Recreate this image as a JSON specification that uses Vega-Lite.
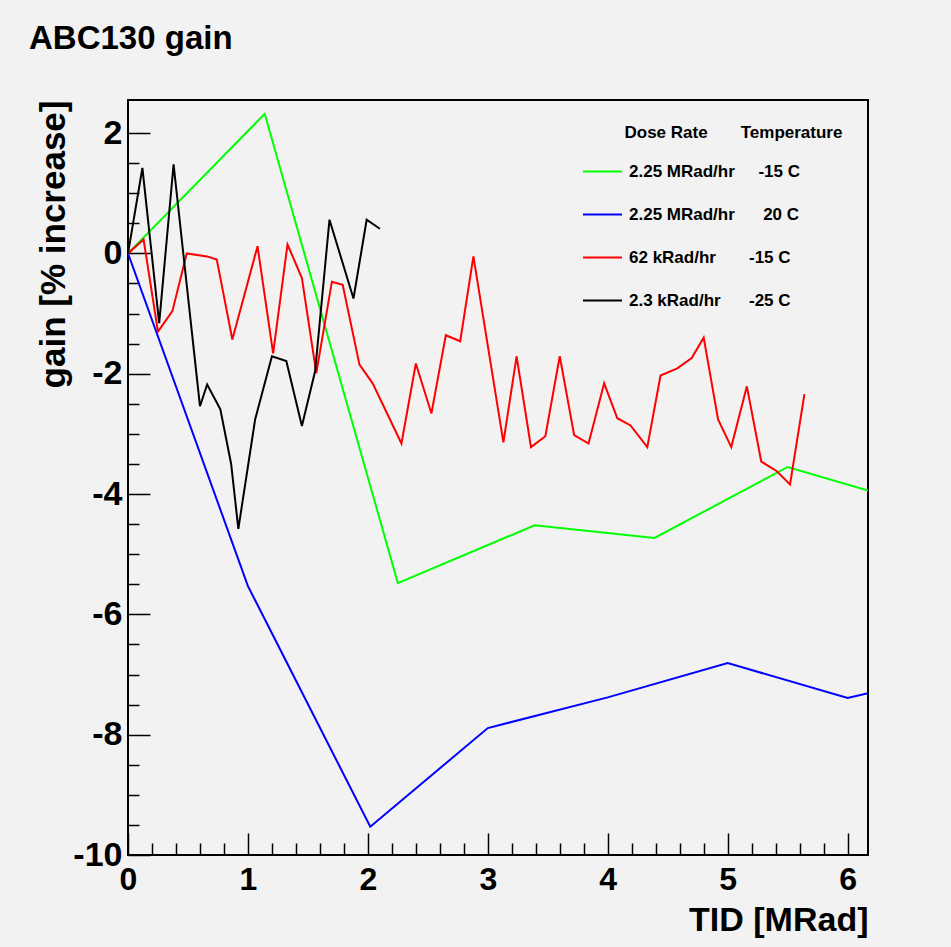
{
  "$schema": "https://vega.github.io/schema/vega-lite/v6.json",
  "autosize": {"type": "none"},
  "padding": {"left": 128, "top": 100, "right": 83, "bottom": 92},
  "width": 740,
  "height": 755,
  "background": "#f2f2f2",
  "title": {
    "text": "ABC130 gain",
    "anchor": "start",
    "frame": "group",
    "font": "Liberation Sans",
    "fontSize": 33,
    "fontWeight": "bold",
    "color": "black",
    "baseline": "alphabetic",
    "offset": 18,
    "dx": -99
  },
  "config": {
    "view": {"stroke": "black", "strokeWidth": 2, "fill": "#f2f2f2"},
    "axis": {"grid": false, "domain": false}
  },
  "data": {
    "values": [
      {"series": "2.25 MRad/hr, -15 C", "tid": 0, "gain": 0},
      {"series": "2.25 MRad/hr, -15 C", "tid": 1.14, "gain": 2.32},
      {"series": "2.25 MRad/hr, -15 C", "tid": 2.25, "gain": -5.48},
      {"series": "2.25 MRad/hr, -15 C", "tid": 3.39, "gain": -4.52},
      {"series": "2.25 MRad/hr, -15 C", "tid": 4.39, "gain": -4.73},
      {"series": "2.25 MRad/hr, -15 C", "tid": 5.5, "gain": -3.55},
      {"series": "2.25 MRad/hr, -15 C", "tid": 6.17, "gain": -3.94},

      {"series": "2.25 MRad/hr, 20 C", "tid": 0, "gain": 0},
      {"series": "2.25 MRad/hr, 20 C", "tid": 1.0, "gain": -5.53},
      {"series": "2.25 MRad/hr, 20 C", "tid": 2.02, "gain": -9.53},
      {"series": "2.25 MRad/hr, 20 C", "tid": 3.0, "gain": -7.89},
      {"series": "2.25 MRad/hr, 20 C", "tid": 4.0, "gain": -7.38},
      {"series": "2.25 MRad/hr, 20 C", "tid": 5.0, "gain": -6.81},
      {"series": "2.25 MRad/hr, 20 C", "tid": 6.0, "gain": -7.39},
      {"series": "2.25 MRad/hr, 20 C", "tid": 6.17, "gain": -7.31},

      {"series": "62 kRad/hr, -15 C", "tid": 0, "gain": 0},
      {"series": "62 kRad/hr, -15 C", "tid": 0.13, "gain": 0.23},
      {"series": "62 kRad/hr, -15 C", "tid": 0.25, "gain": -1.3},
      {"series": "62 kRad/hr, -15 C", "tid": 0.37, "gain": -0.96},
      {"series": "62 kRad/hr, -15 C", "tid": 0.49, "gain": 0.0},
      {"series": "62 kRad/hr, -15 C", "tid": 0.66, "gain": -0.05},
      {"series": "62 kRad/hr, -15 C", "tid": 0.74, "gain": -0.1},
      {"series": "62 kRad/hr, -15 C", "tid": 0.87, "gain": -1.43},
      {"series": "62 kRad/hr, -15 C", "tid": 1.08, "gain": 0.12},
      {"series": "62 kRad/hr, -15 C", "tid": 1.21, "gain": -1.66},
      {"series": "62 kRad/hr, -15 C", "tid": 1.33, "gain": 0.15},
      {"series": "62 kRad/hr, -15 C", "tid": 1.45, "gain": -0.41},
      {"series": "62 kRad/hr, -15 C", "tid": 1.57, "gain": -1.99},
      {"series": "62 kRad/hr, -15 C", "tid": 1.7, "gain": -0.47},
      {"series": "62 kRad/hr, -15 C", "tid": 1.79, "gain": -0.52},
      {"series": "62 kRad/hr, -15 C", "tid": 1.93, "gain": -1.85},
      {"series": "62 kRad/hr, -15 C", "tid": 2.04, "gain": -2.16},
      {"series": "62 kRad/hr, -15 C", "tid": 2.28, "gain": -3.16},
      {"series": "62 kRad/hr, -15 C", "tid": 2.4, "gain": -1.83},
      {"series": "62 kRad/hr, -15 C", "tid": 2.53, "gain": -2.66},
      {"series": "62 kRad/hr, -15 C", "tid": 2.65, "gain": -1.36},
      {"series": "62 kRad/hr, -15 C", "tid": 2.77, "gain": -1.46},
      {"series": "62 kRad/hr, -15 C", "tid": 2.88, "gain": -0.05},
      {"series": "62 kRad/hr, -15 C", "tid": 3.13, "gain": -3.14},
      {"series": "62 kRad/hr, -15 C", "tid": 3.24, "gain": -1.71},
      {"series": "62 kRad/hr, -15 C", "tid": 3.36, "gain": -3.22},
      {"series": "62 kRad/hr, -15 C", "tid": 3.48, "gain": -3.04},
      {"series": "62 kRad/hr, -15 C", "tid": 3.6, "gain": -1.71},
      {"series": "62 kRad/hr, -15 C", "tid": 3.72, "gain": -3.02},
      {"series": "62 kRad/hr, -15 C", "tid": 3.84, "gain": -3.16},
      {"series": "62 kRad/hr, -15 C", "tid": 3.97, "gain": -2.16},
      {"series": "62 kRad/hr, -15 C", "tid": 4.08, "gain": -2.74},
      {"series": "62 kRad/hr, -15 C", "tid": 4.19, "gain": -2.86},
      {"series": "62 kRad/hr, -15 C", "tid": 4.33, "gain": -3.22},
      {"series": "62 kRad/hr, -15 C", "tid": 4.44, "gain": -2.03},
      {"series": "62 kRad/hr, -15 C", "tid": 4.58, "gain": -1.91},
      {"series": "62 kRad/hr, -15 C", "tid": 4.7, "gain": -1.74},
      {"series": "62 kRad/hr, -15 C", "tid": 4.8, "gain": -1.4},
      {"series": "62 kRad/hr, -15 C", "tid": 4.92, "gain": -2.76},
      {"series": "62 kRad/hr, -15 C", "tid": 5.03, "gain": -3.22},
      {"series": "62 kRad/hr, -15 C", "tid": 5.16, "gain": -2.21},
      {"series": "62 kRad/hr, -15 C", "tid": 5.28, "gain": -3.46},
      {"series": "62 kRad/hr, -15 C", "tid": 5.41, "gain": -3.62},
      {"series": "62 kRad/hr, -15 C", "tid": 5.52, "gain": -3.84},
      {"series": "62 kRad/hr, -15 C", "tid": 5.64, "gain": -2.34},

      {"series": "2.3 kRad/hr, -25 C", "tid": 0, "gain": 0},
      {"series": "2.3 kRad/hr, -25 C", "tid": 0.12, "gain": 1.42},
      {"series": "2.3 kRad/hr, -25 C", "tid": 0.26, "gain": -1.16},
      {"series": "2.3 kRad/hr, -25 C", "tid": 0.38, "gain": 1.48},
      {"series": "2.3 kRad/hr, -25 C", "tid": 0.6, "gain": -2.54},
      {"series": "2.3 kRad/hr, -25 C", "tid": 0.66, "gain": -2.18},
      {"series": "2.3 kRad/hr, -25 C", "tid": 0.77, "gain": -2.59},
      {"series": "2.3 kRad/hr, -25 C", "tid": 0.86, "gain": -3.5},
      {"series": "2.3 kRad/hr, -25 C", "tid": 0.92, "gain": -4.58},
      {"series": "2.3 kRad/hr, -25 C", "tid": 1.06, "gain": -2.76},
      {"series": "2.3 kRad/hr, -25 C", "tid": 1.2, "gain": -1.71},
      {"series": "2.3 kRad/hr, -25 C", "tid": 1.32, "gain": -1.79},
      {"series": "2.3 kRad/hr, -25 C", "tid": 1.45, "gain": -2.87},
      {"series": "2.3 kRad/hr, -25 C", "tid": 1.56, "gain": -1.96},
      {"series": "2.3 kRad/hr, -25 C", "tid": 1.68, "gain": 0.56},
      {"series": "2.3 kRad/hr, -25 C", "tid": 1.88, "gain": -0.75},
      {"series": "2.3 kRad/hr, -25 C", "tid": 1.99, "gain": 0.56},
      {"series": "2.3 kRad/hr, -25 C", "tid": 2.1, "gain": 0.41}
    ]
  },
  "mark": {"type": "line", "strokeWidth": 2, "clip": true},
  "encoding": {
    "x": {
      "field": "tid",
      "type": "quantitative",
      "scale": {"domain": [0, 6.17], "nice": false, "zero": false},
      "axis": {
        "title": "TID [MRad]",
        "titleAnchor": "end",
        "titleFont": "Liberation Sans",
        "titleFontSize": 34,
        "titleFontWeight": "bold",
        "titleColor": "black",
        "titlePadding": -2,
        "values": [0, 0.2, 0.4, 0.6, 0.8, 1, 1.2, 1.4, 1.6, 1.8, 2, 2.2, 2.4, 2.6, 2.8, 3, 3.2, 3.4, 3.6, 3.8, 4, 4.2, 4.4, 4.6, 4.8, 5, 5.2, 5.4, 5.6, 5.8, 6],
        "tickSize": {"condition": {"test": "datum.value % 1 === 0", "value": -22}, "value": -12},
        "tickColor": "black",
        "tickWidth": 1.5,
        "labelExpr": "datum.value % 1 === 0 ? '' + datum.value : ''",
        "labelFont": "Liberation Sans",
        "labelFontSize": 32,
        "labelFontWeight": "bold",
        "labelColor": "black",
        "labelPadding": 31,
        "labelFlush": false,
        "labelOverlap": false
      }
    },
    "y": {
      "field": "gain",
      "type": "quantitative",
      "scale": {"domain": [-10, 2.55], "nice": false, "zero": false},
      "axis": {
        "title": "gain [% increase]",
        "titleAnchor": "end",
        "titleFont": "Liberation Sans",
        "titleFontSize": 35,
        "titleFontWeight": "bold",
        "titleColor": "black",
        "titlePadding": 1,
        "values": [-10, -9.5, -9, -8.5, -8, -7.5, -7, -6.5, -6, -5.5, -5, -4.5, -4, -3.5, -3, -2.5, -2, -1.5, -1, -0.5, 0, 0.5, 1, 1.5, 2],
        "tickSize": {"condition": {"test": "datum.value % 2 === 0", "value": -22}, "value": -11},
        "tickColor": "black",
        "tickWidth": 1.5,
        "labelExpr": "datum.value % 2 === 0 ? '' + datum.value : ''",
        "labelFont": "Liberation Sans",
        "labelFontSize": 34,
        "labelFontWeight": "bold",
        "labelColor": "black",
        "labelPadding": 28,
        "labelFlush": false,
        "labelOverlap": false
      }
    },
    "color": {
      "field": "series",
      "type": "nominal",
      "scale": {
        "domain": ["2.25 MRad/hr, -15 C", "2.25 MRad/hr, 20 C", "62 kRad/hr, -15 C", "2.3 kRad/hr, -25 C"],
        "range": ["#00ff00", "#0000ff", "#ff0000", "#000000"]
      },
      "legend": {
        "title": "\u200b\u00a0\u00a0\u00a0\u00a0\u00a0\u00a0\u00a0\u00a0\u00a0Dose Rate\u00a0\u00a0\u00a0\u00a0\u00a0\u00a0\u00a0Temperature",
        "orient": "top-right",
        "offset": 25,
        "padding": 0,
        "titleFont": "Liberation Sans",
        "titleFontSize": 17,
        "titleFontWeight": "bold",
        "titleColor": "black",
        "titlePadding": 9,
        "titleLimit": 500,
        "labelFont": "Liberation Sans",
        "labelFontSize": 17,
        "labelFontWeight": "bold",
        "labelColor": "black",
        "labelOffset": 6,
        "labelLimit": 400,
        "symbolType": "stroke",
        "symbolSize": 1521,
        "symbolStrokeWidth": 2,
        "rowPadding": 14,
        "labelExpr": "datum.label == '2.25 MRad/hr, -15 C' ? '2.25 MRad/hr\u00a0\u00a0\u00a0\u00a0\u00a0-15 C' : datum.label == '2.25 MRad/hr, 20 C' ? '2.25 MRad/hr\u00a0\u00a0\u00a0\u00a0\u00a0\u00a020 C' : datum.label == '62 kRad/hr, -15 C' ? '62 kRad/hr\u00a0\u00a0\u00a0\u00a0\u00a0\u00a0\u00a0-15 C' : '2.3 kRad/hr\u00a0\u00a0\u00a0\u00a0\u00a0\u00a0-25 C'"
      }
    }
  }
}
